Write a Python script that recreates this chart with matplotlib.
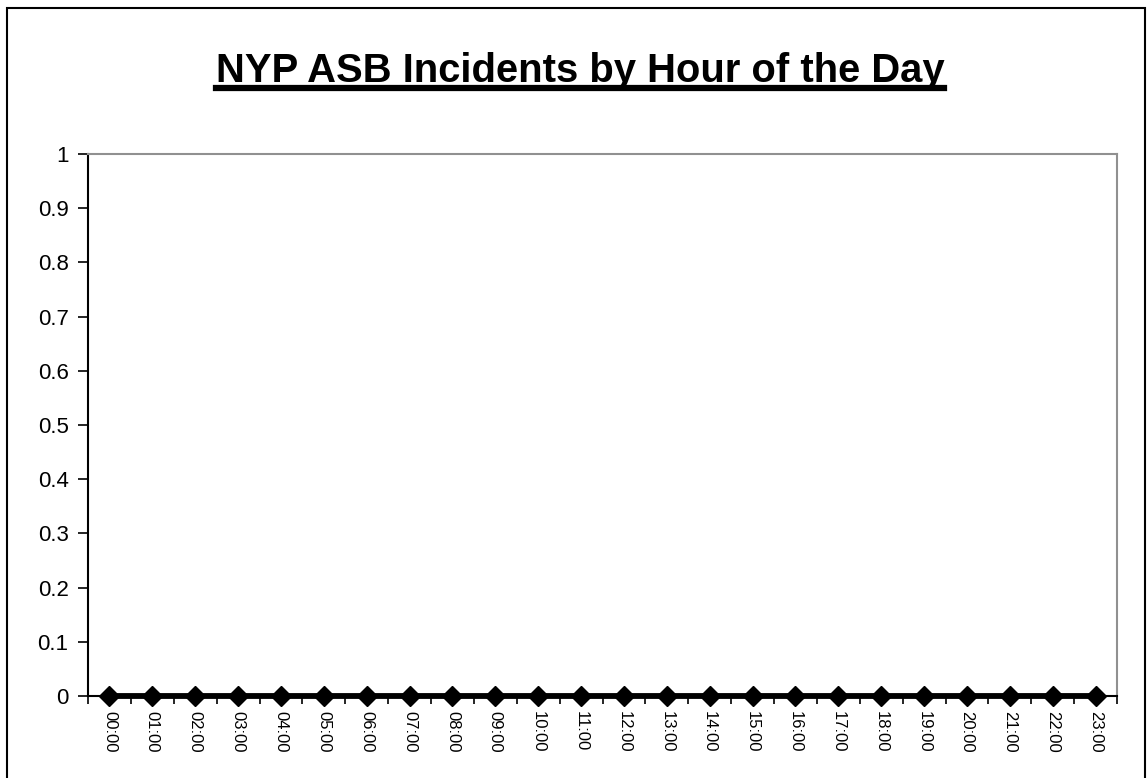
import matplotlib
matplotlib.use("Agg")
import matplotlib.pyplot as plt
from matplotlib.lines import Line2D
from matplotlib.patches import Rectangle
from matplotlib.ticker import FixedLocator, FuncFormatter

plt.rcParams["font.family"] = ["Liberation Sans", "DejaVu Sans"]

# --- data ------------------------------------------------------------------
hours = [f"{h:02d}:00" for h in range(24)]
incidents = [0, 0, 0, 0, 0, 0, 0, 0, 0, 0, 0, 0,
             0, 0, 0, 0, 0, 0, 0, 0, 0, 0, 0, 0]
y_ticks = [0, 0.1, 0.2, 0.3, 0.4, 0.5, 0.6, 0.7, 0.8, 0.9, 1]
title = "NYP ASB Incidents by Hour of the Day"

W, H = 1147, 778
fig = plt.figure(figsize=(W / 100, H / 100), dpi=100)

# outer chart border
fig.patches.append(Rectangle((7 / W, -0.05), 1138 / W, 1.05 - 8 / H,
                             transform=fig.transFigure, fill=False,
                             edgecolor="black", linewidth=1.5))

ax = fig.add_axes([88 / W, 1 - 696 / H, (1117 - 88) / W, (696 - 154) / H])

x = list(range(len(hours)))
ax.plot(x, incidents, color="black", lw=4.2, marker="D", markersize=10,
        clip_on=False, zorder=5)

ax.set_xlim(-0.5, len(hours) - 0.5)
ax.set_ylim(0, 1)

# y axis
ax.yaxis.set_major_locator(FixedLocator(y_ticks))
ax.yaxis.set_major_formatter(FuncFormatter(lambda v, p: f"{v:g}"))
ax.tick_params(axis="y", direction="out", length=7, width=1.2,
               labelsize=16, pad=7)

# x axis: ticks at category boundaries, labels at centres
ax.xaxis.set_major_locator(FixedLocator([i - 0.5 for i in range(len(hours) + 1)]))
ax.xaxis.set_major_formatter(FuncFormatter(lambda v, p: ""))
ax.xaxis.set_minor_locator(FixedLocator(x))
ax.set_xticklabels(hours, minor=True, rotation=-90, fontsize=12)
ax.tick_params(axis="x", which="major", direction="out", length=6, width=1.2)
ax.tick_params(axis="x", which="minor", length=0, pad=11)

for side in ("left", "bottom"):
    ax.spines[side].set_color("black")
    ax.spines[side].set_linewidth(1.5)
for side in ("top", "right"):
    ax.spines[side].set_color("#909090")
    ax.spines[side].set_linewidth(1.5)

# underlined title
t = fig.text(580 / W, 1 - 82 / H, title, ha="center", va="baseline",
             fontsize=28.8, fontweight="bold")
fig.canvas.draw()
bb = t.get_window_extent(renderer=fig.canvas.get_renderer())
uy = 1 - 88 / H
fig.lines.append(Line2D([bb.x0 / W, bb.x1 / W], [uy, uy],
                        transform=fig.transFigure, color="black", lw=4.5))

fig.savefig("out.png", dpi=100)
